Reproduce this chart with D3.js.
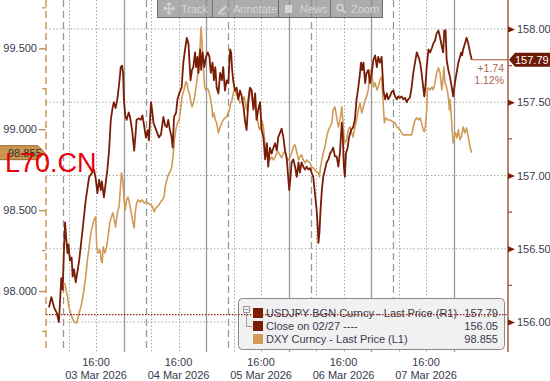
<!DOCTYPE html>
<html><head><meta charset="utf-8">
<script src="https://cdn.jsdelivr.net/npm/d3@7"></script>
<style>
html,body{margin:0;padding:0;background:#fff;}
svg{display:block;font-family:"Liberation Sans",Arial,sans-serif;}
</style></head><body>
<svg id="c" width="550" height="381"></svg>
<script>
// ---- DATA (time = hours since 03 Mar 2026 00:00) ----
const usdHours = [2.3,3.0,3.8,4.6,5.2,5.9,6.3,6.7,7.0,7.3,7.7,8.0,8.4,8.9,9.2,9.6,10.1,11.1,12.0,13.0,14.0,14.9,15.4,15.9,16.4,16.9,17.4,17.7,18.3,19.3,19.8,20.3,20.8,21.2,21.7,22.2,22.7,23.2,23.6,23.9,24.1,24.5,24.9,25.5,25.9,26.5,27.1,27.5,27.8,28.4,29.0,29.5,30.0,30.5,31.0,31.4,32.0,32.3,32.7,33.5,34.3,34.9,35.6,36.1,36.6,37.0,37.5,38.0,38.3,38.7,39.3,39.7,40.2,40.9,41.4,41.9,42.4,42.9,43.1,43.5,43.9,44.3,44.8,45.1,45.5,45.8,46.3,46.6,47.0,47.5,48.0,48.5,49.0,49.4,49.9,50.3,50.7,51.1,51.6,52.1,52.6,53.0,53.5,54.0,54.5,55.0,55.3,55.6,55.9,56.4,56.9,57.4,57.9,58.4,58.9,59.3,59.8,60.3,60.8,61.3,61.8,62.3,62.7,63.2,63.7,64.2,64.7,65.2,65.7,66.1,66.6,67.1,67.6,68.1,68.6,69.0,69.5,70.0,70.5,71.0,71.5,71.9,72.2,72.5,72.9,73.4,73.9,74.4,74.9,75.3,75.8,76.3,76.8,77.3,77.8,78.3,78.7,79.2,79.5,79.9,80.2,80.5,80.7,81.0,81.3,81.7,82.1,82.6,83.1,83.6,84.1,84.6,85.0,85.5,86.0,86.5,87.0,87.5,87.8,88.1,88.4,88.7,89.2,89.6,90.2,90.8,91.3,91.8,92.3,92.8,93.1,93.4,93.8,94.3,94.7,95.2,95.7,96.2,96.7,97.2,97.7,98.1,98.6,99.1,99.6,100.1,100.6,101.0,101.5,102.0,102.5,103.0,103.5,103.9,104.4,104.9,105.4,105.9,106.4,106.8,107.3,107.8,108.3,108.8,109.3,109.8,110.3,110.7,111.2,111.5,111.8,112.2,112.7,113.2,113.7,114.1,114.6,115.1,115.6,116.1,116.6,117.0,117.3,117.7,118.0,118.5,119.0,119.5,119.9,120.4,120.9,121.4,121.9,122.2,122.5,122.8,123.3,123.8,124.3,124.8,125.3];
const usdValues = [156.10,156.17,156.10,156.06,156.00,156.30,156.22,156.51,156.68,156.58,156.47,156.53,156.42,156.44,156.31,156.36,156.27,156.42,156.61,156.83,156.99,157.02,157.04,156.98,156.88,156.97,156.90,156.96,156.85,157.04,157.17,157.38,157.46,157.50,157.46,157.52,157.62,157.74,157.75,157.69,157.52,157.41,157.38,157.43,157.40,157.31,157.17,157.28,157.38,157.39,157.38,157.41,157.34,157.26,157.31,157.24,157.50,157.45,157.36,157.31,157.26,157.28,157.40,157.34,157.33,157.38,157.31,157.26,157.19,157.40,157.43,157.52,157.56,157.60,157.77,157.86,157.94,157.90,157.81,157.65,157.72,157.74,157.84,157.74,157.81,157.70,157.86,157.72,157.84,157.74,157.81,157.84,157.81,157.70,157.77,157.65,157.74,157.60,157.56,157.70,157.65,157.74,157.58,157.65,157.63,157.86,157.84,157.72,157.65,157.58,157.60,157.52,157.58,157.54,157.47,157.38,157.31,157.50,157.60,157.58,157.45,157.56,157.38,157.45,157.50,157.31,157.26,157.11,157.22,157.06,157.19,157.15,157.19,157.22,157.17,157.26,157.29,157.32,157.26,157.17,157.11,156.99,156.90,156.97,157.09,157.11,157.06,156.99,157.09,157.02,157.09,157.06,157.04,157.06,157.04,157.05,157.02,156.99,156.92,156.83,156.76,156.65,156.54,156.61,156.76,156.90,156.99,157.04,157.09,157.11,157.15,157.17,157.19,157.13,157.13,157.06,157.17,157.36,157.26,157.06,156.99,157.15,157.19,157.26,157.31,157.33,157.38,157.52,157.60,157.70,157.77,157.72,157.77,157.63,157.70,157.72,157.63,157.70,157.79,157.82,157.74,157.81,157.77,157.81,157.58,157.52,157.56,157.52,157.54,157.57,157.58,157.54,157.52,157.54,157.53,157.54,157.52,157.53,157.50,157.52,157.53,157.60,157.70,157.77,157.84,157.81,157.77,157.70,157.60,157.54,157.60,157.74,157.86,157.84,157.87,157.90,157.92,157.97,157.99,157.94,157.88,157.84,157.99,157.99,157.79,157.72,157.67,157.60,157.54,157.63,157.70,157.77,157.81,157.84,157.82,157.86,157.90,157.94,157.90,157.84,157.79];
const dxyHours = [6.9,7.3,7.7,8.1,8.6,9.1,9.6,10.4,11.1,11.6,12.0,12.5,13.0,13.5,14.0,14.5,14.9,15.4,15.9,16.2,16.6,17.2,17.5,17.8,18.1,18.6,19.1,19.5,20.0,20.5,20.9,21.3,21.7,22.2,22.7,23.0,23.4,23.8,24.1,24.5,24.9,25.3,25.7,26.1,26.6,27.1,27.4,27.8,28.3,28.8,29.4,30.0,30.5,31.1,31.9,32.5,32.9,33.4,33.8,34.3,34.8,35.3,35.8,36.1,36.6,37.0,37.5,38.0,38.5,38.8,39.2,39.7,40.2,40.6,41.0,41.6,42.1,42.4,42.8,43.1,43.5,43.9,44.3,44.7,45.1,45.5,45.8,46.1,46.3,46.5,46.6,46.8,47.0,47.3,47.6,47.9,48.2,48.7,49.2,49.7,49.9,50.3,50.7,51.1,51.6,52.1,52.6,53.0,53.5,54.0,54.4,54.8,55.2,55.6,55.9,56.3,56.7,57.1,57.5,57.9,58.3,58.7,59.1,59.4,59.8,60.2,60.6,61.0,61.4,61.8,62.2,62.5,62.9,63.3,63.7,64.2,64.7,65.2,65.7,66.1,66.6,67.1,67.6,68.1,68.6,69.0,69.5,70.0,70.5,71.0,71.5,71.9,72.4,72.9,73.4,73.9,74.4,74.9,75.3,75.8,76.3,76.8,77.3,77.8,78.3,78.7,79.2,79.7,80.2,80.7,81.0,81.3,81.7,82.1,82.6,83.1,83.6,84.1,84.6,85.0,85.5,86.0,86.5,87.0,87.5,87.8,88.1,88.4,88.9,89.4,89.9,90.4,90.8,91.3,91.8,92.3,92.8,93.3,93.8,94.3,94.7,95.2,95.7,96.2,96.7,97.2,97.7,98.1,98.6,99.1,99.6,99.9,100.3,100.9,101.5,102.5,103.0,103.5,103.9,104.4,104.9,105.4,106.4,107.3,107.8,108.3,108.8,109.3,109.8,110.3,110.7,111.2,111.5,111.8,112.2,112.4,112.7,113.2,113.7,114.1,114.6,115.1,115.6,116.1,116.6,117.0,117.2,117.5,118.0,118.5,118.8,119.0,119.3,119.6,119.9,120.2,120.6,121.0,121.4,121.9,122.4,122.8,123.3,123.8,124.3,124.8,125.3];
const dxyValues = [98.050,98.007,97.964,97.902,97.865,97.834,97.809,97.803,97.865,97.902,97.945,98.007,98.087,98.192,98.273,98.359,98.396,98.439,98.458,98.273,98.235,98.254,98.192,98.174,98.273,98.235,98.273,98.334,98.421,98.458,98.483,98.439,98.396,98.483,98.520,98.606,98.730,98.687,98.582,98.501,98.563,98.582,98.544,98.501,98.439,98.390,98.483,98.544,98.563,98.551,98.563,98.544,98.551,98.544,98.532,98.520,98.489,98.514,98.520,98.532,98.551,98.563,98.582,98.643,98.687,98.717,98.736,98.761,98.853,98.934,98.996,99.039,99.057,99.119,99.200,99.243,99.292,99.286,99.243,99.224,99.181,99.138,99.162,99.200,99.261,99.323,99.385,99.471,99.509,99.614,99.632,99.552,99.471,99.366,99.261,99.243,99.255,99.243,99.200,99.138,99.076,99.101,99.057,99.039,98.977,99.014,99.039,99.057,99.070,99.076,99.101,99.119,99.162,99.181,99.224,99.243,99.224,99.200,99.181,99.162,99.169,99.181,99.200,99.162,99.119,99.181,99.243,99.243,99.181,99.138,99.162,99.119,99.076,99.014,98.996,99.057,99.014,98.891,98.829,98.853,98.810,98.829,98.810,98.829,98.853,98.860,98.841,98.823,98.853,98.860,98.829,98.810,98.823,98.853,98.891,98.903,98.860,98.810,98.829,98.841,98.810,98.792,98.810,98.798,98.792,98.767,98.761,98.748,98.736,98.730,98.705,98.767,98.810,98.853,98.891,98.952,98.996,99.014,99.039,99.119,99.138,99.076,99.014,99.057,99.138,99.057,98.952,98.915,98.934,98.996,99.014,98.977,98.952,99.014,99.057,99.119,99.162,99.101,99.138,99.181,99.200,99.243,99.366,99.348,99.261,99.286,99.243,99.261,99.305,99.323,99.138,99.039,99.070,99.057,99.057,99.045,99.039,99.014,99.008,98.996,98.977,98.965,98.965,98.965,98.965,99.014,99.057,99.070,99.057,99.070,99.039,98.996,98.983,99.014,99.119,99.243,99.255,99.243,99.261,99.243,99.286,99.348,99.379,99.348,99.243,99.323,99.385,99.286,99.261,99.200,99.119,99.181,99.101,98.996,98.915,98.952,98.977,98.946,98.996,98.934,98.965,99.014,98.977,99.008,98.952,98.891,98.855];
const dayLabels = ["03 Mar 2026","04 Mar 2026","05 Mar 2026","06 Mar 2026","07 Mar 2026"];
const timeLabel = "16:00";
const leftTicks = [98.0, 98.5, 99.0, 99.5];
const leftMinor = [97.75, 98.25, 98.75, 99.25, 99.75];
const rightTicks = [156.0, 156.5, 157.0, 157.5, 158.0];
const rightMinor = [156.25, 156.75, 157.25, 157.75];
const closeValue = 156.05;
const lastUSD = 157.79, lastDXY = 98.855;
const changeAbs = "+1.74", changePct = "1.12%";
const legendNames = ["USDJPY BGN Curncy - Last Price (R1)", "Close on 02/27 ----", "DXY Curncy - Last Price (L1)"];
const legendValues = ["157.79", "156.05", "98.855"];
const toolbarItems = ["Track", "Annotate", "News", "Zoom"];
const watermark = "L70.CN";

// ---- STYLE ----
const cUSD = "#7a1d07", cDXY = "#d19a56", cRAxis = "#a8583c", cLAxis = "#c9965a";
const cGrid = "#a9a9a9", cText = "#3a3a4e";

const svg = d3.select("#c");
const base = Date.UTC(2026, 2, 3);
const t = h => new Date(base + h * 3600e3);
const L = 46, R = 508, B = 352;
const x = d3.scaleUtc().domain([t(1.45), t(135.85)]).range([L, R]);
const yR = d3.scaleLinear().domain([156, 158]).range([322, 29]);
const yL = d3.scaleLinear().domain([98, 99.5]).range([291, 48.3]);

// horizontal grid (right axis ticks)
svg.append("g").selectAll("line").data(rightTicks).join("line")
  .attr("x1", L).attr("x2", R).attr("y1", d => yR(d)).attr("y2", d => yR(d))
  .attr("stroke", cGrid).attr("stroke-width", 1).attr("stroke-dasharray", "1.5,2");

// vertical lines
const vlines = [];
for (let d = 0; d < 5; d++) {
  vlines.push({h: 6.5 + 24*d, s: "dash"});
  vlines.push({h: 8 + 24*d, s: "dot"});
  vlines.push({h: 16 + 24*d, s: "dot"});
  vlines.push({h: 24 + 24*d, s: "solid"});
}
svg.append("g").selectAll("line").data(vlines).join("line")
  .attr("x1", d => Math.round(x(t(d.h))) + 0.5).attr("x2", d => Math.round(x(t(d.h))) + 0.5)
  .attr("y1", 0).attr("y2", B)
  .attr("stroke", d => d.s === "dot" ? cGrid : "#999")
  .attr("stroke-width", d => d.s === "dot" ? 1 : 1.3)
  .attr("stroke-dasharray", d => d.s === "dash" ? "7,4" : d.s === "dot" ? "1.5,2" : null);

// left axis
svg.append("line").attr("x1", L).attr("x2", L).attr("y1", 0).attr("y2", B)
  .attr("stroke", cLAxis).attr("stroke-width", 1.5).attr("stroke-dasharray", "7,4");
const la = svg.append("g").attr("transform", `translate(${L},0)`)
  .call(d3.axisLeft(yL).tickValues(leftTicks).tickFormat(d3.format(".3f")).tickSize(7).tickPadding(2));
la.select(".domain").remove();
la.selectAll(".tick line").attr("stroke", cLAxis).attr("stroke-width", 1.5);
la.selectAll(".tick text").attr("fill", cText).style("font-size", "11px").style("font-family", "Liberation Sans, Arial, sans-serif");
svg.append("g").selectAll("line").data(leftMinor).join("line")
  .attr("x1", L - 4).attr("x2", L).attr("y1", d => yL(d)).attr("y2", d => yL(d))
  .attr("stroke", cLAxis).attr("stroke-width", 1.3);

// right axis
svg.append("line").attr("x1", R).attr("x2", R).attr("y1", 0).attr("y2", B)
  .attr("stroke", cRAxis).attr("stroke-width", 1.5);
const ra = svg.append("g").attr("transform", `translate(${R},0)`)
  .call(d3.axisRight(yR).tickValues(rightTicks).tickFormat(d3.format(".2f")).tickSize(0).tickPadding(9));
ra.select(".domain").remove();
ra.selectAll(".tick text").attr("fill", cText).style("font-size", "11px").style("font-family", "Liberation Sans, Arial, sans-serif");
ra.selectAll(".tick").append("path").attr("d", "M0,-3L7,0L0,3Z").attr("fill", cUSD);
svg.append("g").selectAll("line").data(rightMinor).join("line")
  .attr("x1", R).attr("x2", R + 4).attr("y1", d => yR(d)).attr("y2", d => yR(d))
  .attr("stroke", cRAxis).attr("stroke-width", 1.3);

// bottom labels
const tickHours = dayLabels.map((_, i) => 16 + 24 * i);
const bt = svg.append("g").selectAll("text").data(tickHours).join("text")
  .attr("x", d => x(t(d))).attr("text-anchor", "middle").attr("fill", cText)
  .style("font-size", "11px");
bt.append("tspan").attr("x", d => x(t(d))).attr("y", 366).text(timeLabel);
bt.append("tspan").attr("x", d => x(t(d))).attr("y", 379).text((d, i) => dayLabels[i]);

// series
const usd = usdHours.map((h, i) => ({h, v: usdValues[i]}));
const dxy = dxyHours.map((h, i) => ({h, v: dxyValues[i]}));
svg.append("path").datum(dxy)
  .attr("d", d3.line().x(d => x(t(d.h))).y(d => yL(d.v)))
  .attr("fill", "none").attr("stroke", cDXY).attr("stroke-width", 1.6).attr("stroke-linejoin", "round");
svg.append("path").datum(usd)
  .attr("d", d3.line().x(d => x(t(d.h))).y(d => yR(d.v)))
  .attr("fill", "none").attr("stroke", cUSD).attr("stroke-width", 1.8).attr("stroke-linejoin", "round");

// last-price leader line
const lastH = usdHours[usdHours.length - 1];
svg.append("line").attr("x1", x(t(lastH))).attr("x2", R).attr("y1", yR(lastUSD)).attr("y2", yR(lastUSD))
  .attr("stroke", "#a0553a").attr("stroke-width", 1.2);

// change annotation
svg.append("text").attr("x", 504).attr("y", yR(lastUSD) + 12).attr("text-anchor", "end")
  .attr("fill", "#a5654c").style("font-size", "10.5px").text(changeAbs);
svg.append("text").attr("x", 504).attr("y", yR(lastUSD) + 24).attr("text-anchor", "end")
  .attr("fill", "#a5654c").style("font-size", "10.5px").text(changePct);

// legend
const lg = svg.append("g");
lg.append("rect").attr("x", 238.5).attr("y", 298.5).attr("width", 266).attr("height", 51).attr("rx", 4)
  .attr("fill", "#f1f1f1").attr("stroke", "#8a8a8a").attr("stroke-width", 1);
const rowY = [313, 326, 339];
lg.append("rect").attr("x", 243.5).attr("y", 306.5).attr("width", 6).attr("height", 6).attr("fill", "none").attr("stroke", "#999");
lg.append("line").attr("x1", 244.5).attr("x2", 248.5).attr("y1", 309.5).attr("y2", 309.5).attr("stroke", "#999");
lg.append("path").attr("d", "M246.5,312.5V326.5H252").attr("fill", "none").attr("stroke", "#999");
const swatchC = [cUSD, cUSD, cDXY];
lg.selectAll("rect.sw").data(rowY).join("rect").attr("class", "sw")
  .attr("x", 253).attr("y", d => d - 5).attr("width", 10).attr("height", 10)
  .attr("fill", (d, i) => swatchC[i]);
lg.selectAll("text.nm").data(legendNames).join("text").attr("class", "nm")
  .attr("x", 266).attr("y", (d, i) => rowY[i] + 4).attr("fill", cText).style("font-size", "11px").text(d => d);
lg.selectAll("text.vl").data(legendValues).join("text").attr("class", "vl")
  .attr("x", 498).attr("y", (d, i) => rowY[i] + 4).attr("text-anchor", "end").attr("fill", cText).style("font-size", "11px").text(d => d);

// close line (drawn above legend)
svg.append("line").attr("x1", L).attr("x2", R).attr("y1", yR(closeValue)).attr("y2", yR(closeValue))
  .attr("stroke", "#8a2a10").attr("stroke-width", 1.3).attr("stroke-dasharray", "1.5,1.5");

// right last price tag
const yu = yR(lastUSD);
svg.append("path").attr("d", `M${R+1},${yu}L${R+7},${yu-7}H552V${yu+7}H${R+7}Z`).attr("fill", "#6d1a06");
svg.append("text").attr("x", 515).attr("y", yu + 4).attr("fill", "#fff").style("font-size", "11px").text(lastUSD.toFixed(2));

// left last price tag
const yd = yL(lastDXY);
svg.append("path").attr("d", `M-1,${yd-7}H38L${L-1},${yd}L38,${yd+7}H-1Z`).attr("fill", "#c9964f").attr("stroke", "#9a6a30");
svg.append("text").attr("x", 8).attr("y", yd + 4).attr("fill", "#333").style("font-size", "11px").text(lastDXY.toFixed(3));

// watermark
svg.append("text").attr("x", 5).attr("y", 172).attr("fill", "#e5000a").style("font-size", "27px").text(watermark);

// toolbar
const tb = svg.append("g");
tb.append("rect").attr("x", 157.5).attr("y", -1).attr("width", 225).attr("height", 18.5)
  .attr("fill", "#8c8c8c").attr("fill-opacity", 0.72).attr("stroke", "#6e6e6e");
const segs = [[157, 212], [212, 278], [278, 330], [330, 382]];
tb.selectAll("line.dv").data(segs.slice(1)).join("line").attr("class", "dv")
  .attr("x1", d => d[0] + 0.5).attr("x2", d => d[0] + 0.5).attr("y1", 0).attr("y2", 17)
  .attr("stroke", "#6e6e6e");
const txtX = [181, 233, 300, 351];
tb.selectAll("text.tb").data(toolbarItems).join("text").attr("class", "tb")
  .attr("x", (d, i) => txtX[i]).attr("y", 12.5).attr("fill", "#d6d6d6").style("font-size", "11px").text(d => d);
// icons
const ic = "#d6d6d6";
tb.append("path").attr("d", "M169,3V14M163.5,8.5H174.5M169,3l-2,2M169,3l2,2M169,14l-2,-2M169,14l2,-2M163.5,8.5l2,-2M163.5,8.5l2,2M174.5,8.5l-2,-2M174.5,8.5l-2,2")
  .attr("stroke", ic).attr("stroke-width", 1.3).attr("fill", "none");
tb.append("path").attr("d", "M219,13L226,6").attr("stroke", ic).attr("stroke-width", 2);
tb.append("path").attr("d", "M218,14H226").attr("stroke", ic).attr("stroke-width", 1);
tb.append("rect").attr("x", 285).attr("y", 5).attr("width", 7).attr("height", 8).attr("fill", ic);
tb.append("circle").attr("cx", 340).attr("cy", 7.5).attr("r", 3).attr("fill", "none").attr("stroke", ic).attr("stroke-width", 1.3);
tb.append("path").attr("d", "M342.2,9.7L345.5,13").attr("stroke", ic).attr("stroke-width", 1.6);
</script>
</body></html>
